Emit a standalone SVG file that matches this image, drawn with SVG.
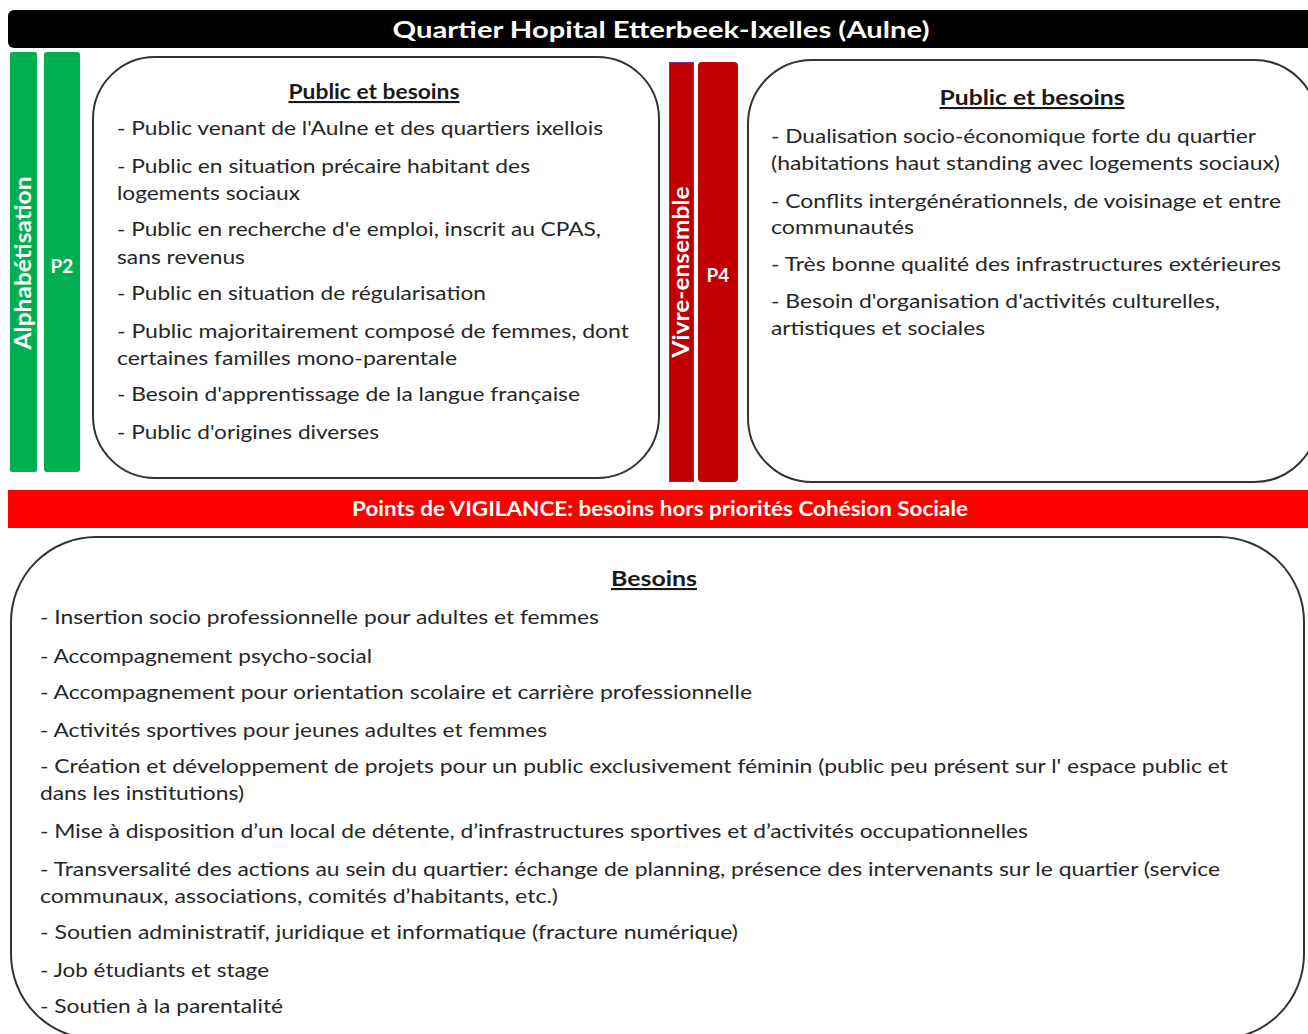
<svg xmlns="http://www.w3.org/2000/svg" width="1308" height="1034" viewBox="0 0 1308 1034">
<style>
.t{font-family:Lato,"Open Sans","Liberation Sans",sans-serif;font-size:20px;fill:#262626}
.h{font-family:Lato,"Open Sans","Liberation Sans",sans-serif;font-weight:bold;font-size:21px;fill:#1a1a1a;text-decoration:underline;text-anchor:middle}
.w{font-family:Lato,"Open Sans","Liberation Sans",sans-serif;font-weight:bold;fill:#fff;text-anchor:middle}
.box{fill:#fff;stroke:#333;stroke-width:2}
</style>
<rect width="1308" height="1034" fill="#fff"/>
<g id="title">
<rect x="8" y="10" width="1310" height="38" rx="6" fill="#000"/>
<text class="w" x="661" y="38" font-size="23" textLength="537" lengthAdjust="spacingAndGlyphs">Quartier Hopital Etterbeek-Ixelles (Aulne)</text>
</g>
<g id="alphabetisation">
<rect x="10" y="52" width="27" height="420" rx="2" fill="#00B050"/>
<text class="w" font-size="23" transform="translate(31,263) rotate(-90)" textLength="173" lengthAdjust="spacingAndGlyphs">Alphabétisation</text>
</g>
<g id="p2">
<rect x="44" y="52" width="36" height="420" rx="3" fill="#00B050"/>
<text class="w" font-size="19" x="62" y="273">P2</text>
</g>
<g id="public-besoins-1">
<rect class="box" x="93" y="57" width="566" height="421" rx="62"/>
<text class="h" x="374" y="99" textLength="171" lengthAdjust="spacingAndGlyphs">Public et besoins</text>
<text class="t" x="117" y="135" textLength="486" lengthAdjust="spacingAndGlyphs">- Public venant de l'Aulne et des quartiers ixellois</text>
<text class="t" x="117" y="173" textLength="413" lengthAdjust="spacingAndGlyphs">- Public en situation précaire habitant des</text>
<text class="t" x="117" y="200" textLength="183" lengthAdjust="spacingAndGlyphs">logements sociaux</text>
<text class="t" x="117" y="236" textLength="484" lengthAdjust="spacingAndGlyphs">- Public en recherche d'e emploi, inscrit au CPAS,</text>
<text class="t" x="117" y="264" textLength="128" lengthAdjust="spacingAndGlyphs">sans revenus</text>
<text class="t" x="117" y="300" textLength="369" lengthAdjust="spacingAndGlyphs">- Public en situation de régularisation</text>
<text class="t" x="117" y="338" textLength="512" lengthAdjust="spacingAndGlyphs">- Public majoritairement composé de femmes, dont</text>
<text class="t" x="117" y="365" textLength="340" lengthAdjust="spacingAndGlyphs">certaines familles mono-parentale</text>
<text class="t" x="117" y="401" textLength="463" lengthAdjust="spacingAndGlyphs">- Besoin d'apprentissage de la langue française</text>
<text class="t" x="117" y="439" textLength="262" lengthAdjust="spacingAndGlyphs">- Public d'origines diverses</text>
</g>
<g id="vivre-ensemble">
<rect x="669.5" y="62.5" width="24" height="419" fill="#C00000" stroke="#7030A0" stroke-width="1"/>
<text class="w" font-size="23" transform="translate(689,272) rotate(-90)" textLength="171" lengthAdjust="spacingAndGlyphs">Vivre-ensemble</text>
</g>
<g id="p4">
<rect x="698" y="62" width="40" height="420" rx="4" fill="#C00000"/>
<text class="w" font-size="19" x="718" y="282">P4</text>
</g>
<g id="public-besoins-2">
<rect class="box" x="748" y="60" width="570" height="422" rx="64"/>
<text class="h" x="1032" y="105" font-size="22.5" textLength="185" lengthAdjust="spacingAndGlyphs">Public et besoins</text>
<text class="t" x="771" y="143" textLength="485" lengthAdjust="spacingAndGlyphs">- Dualisation socio-économique forte du quartier</text>
<text class="t" x="771" y="170" textLength="509" lengthAdjust="spacingAndGlyphs">(habitations haut standing avec logements sociaux)</text>
<text class="t" x="771" y="208" textLength="510" lengthAdjust="spacingAndGlyphs">- Conflits intergénérationnels, de voisinage et entre</text>
<text class="t" x="771" y="234" textLength="143" lengthAdjust="spacingAndGlyphs">communautés</text>
<text class="t" x="771" y="271" textLength="510" lengthAdjust="spacingAndGlyphs">- Très bonne qualité des infrastructures extérieures</text>
<text class="t" x="771" y="308" textLength="449" lengthAdjust="spacingAndGlyphs">- Besoin d'organisation d'activités culturelles,</text>
<text class="t" x="771" y="335" textLength="214" lengthAdjust="spacingAndGlyphs">artistiques et sociales</text>
</g>
<g id="vigilance">
<rect x="8" y="490" width="1310" height="38" fill="#FF0000"/>
<text class="w" x="660" y="516" font-size="20" textLength="616" lengthAdjust="spacingAndGlyphs">Points de VIGILANCE: besoins hors priorités Cohésion Sociale</text>
</g>
<g id="besoins">
<rect class="box" x="11" y="537" width="1293" height="502" rx="85"/>
<text class="h" x="654" y="586" font-size="22" textLength="86" lengthAdjust="spacingAndGlyphs">Besoins</text>
<text class="t" x="40" y="624" textLength="559" lengthAdjust="spacingAndGlyphs">- Insertion socio professionnelle pour adultes et femmes</text>
<text class="t" x="40" y="663" textLength="332" lengthAdjust="spacingAndGlyphs">- Accompagnement psycho-social</text>
<text class="t" x="40" y="699" textLength="712" lengthAdjust="spacingAndGlyphs">- Accompagnement pour orientation scolaire et carrière professionnelle</text>
<text class="t" x="40" y="737" textLength="507" lengthAdjust="spacingAndGlyphs">- Activités sportives pour jeunes adultes et femmes</text>
<text class="t" x="40" y="773" textLength="1188" lengthAdjust="spacingAndGlyphs">- Création et développement de projets pour un public exclusivement féminin (public peu présent sur l' espace public et</text>
<text class="t" x="40" y="800" textLength="204" lengthAdjust="spacingAndGlyphs">dans les institutions)</text>
<text class="t" x="40" y="838" textLength="988" lengthAdjust="spacingAndGlyphs">- Mise à disposition d’un local de détente, d’infrastructures sportives et d’activités occupationnelles</text>
<text class="t" x="40" y="876" textLength="1180" lengthAdjust="spacingAndGlyphs">- Transversalité des actions au sein du quartier: échange de planning, présence des intervenants sur le quartier (service</text>
<text class="t" x="40" y="903" textLength="518" lengthAdjust="spacingAndGlyphs">communaux, associations, comités d’habitants, etc.)</text>
<text class="t" x="40" y="939" textLength="698" lengthAdjust="spacingAndGlyphs">- Soutien administratif, juridique et informatique (fracture numérique)</text>
<text class="t" x="40" y="977" textLength="229" lengthAdjust="spacingAndGlyphs">- Job étudiants et stage</text>
<text class="t" x="40" y="1013" textLength="243" lengthAdjust="spacingAndGlyphs">- Soutien à la parentalité</text>
</g>
<g id="connectors"/>
</svg>
